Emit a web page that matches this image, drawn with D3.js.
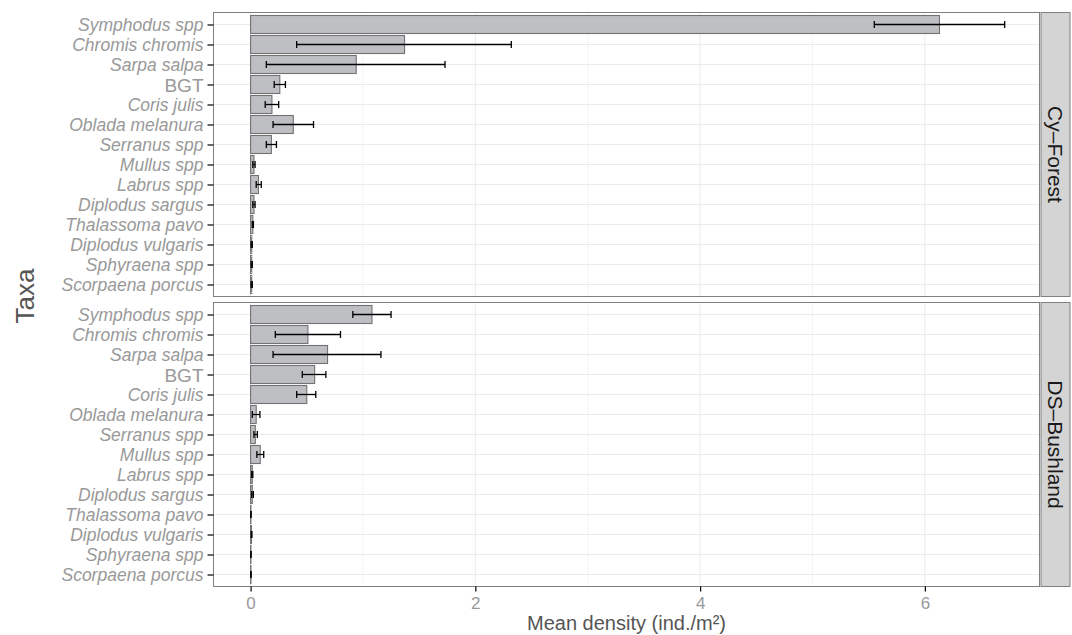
<!DOCTYPE html>
<html lang="en">
<head>
<meta charset="UTF-8">
<title>Mean density</title>
<script src="https://cdn.jsdelivr.net/npm/d3@7"></script>
<style>
  body { margin: 0; background: #fff; }
  .ylab text { font-family: "Liberation Sans", Arial, sans-serif; font-size: 17.5px; fill: #999; font-style: italic; }
</style>
</head>
<body>
<script>
const taxa = ["Symphodus spp", "Chromis chromis", "Sarpa salpa", "BGT", "Coris julis",
  "Oblada melanura", "Serranus spp", "Mullus spp", "Labrus spp", "Diplodus sargus",
  "Thalassoma pavo", "Diplodus vulgaris", "Sphyraena spp", "Scorpaena porcus"];
const sites = ["Cy\u2013Forest", "DS\u2013Bushland"];

// Cy-Forest
const forestMean = [6.13, 1.37, 0.94, 0.26, 0.19, 0.38, 0.185, 0.03, 0.07, 0.03, 0.02, 0.01, 0.01, 0.01];
const forestLo   = [5.55, 0.41, 0.14, 0.21, 0.13, 0.20, 0.14, 0.02, 0.05, 0.02, 0.015, 0.005, 0.005, 0.005];
const forestHi   = [6.71, 2.32, 1.73, 0.31, 0.25, 0.56, 0.23, 0.04, 0.095, 0.04, 0.025, 0.015, 0.015, 0.015];
// DS-Bushland
const bushMean = [1.08, 0.51, 0.685, 0.57, 0.50, 0.05, 0.042, 0.086, 0.015, 0.015, 0.003, 0.008, 0.003, 0.003];
const bushLo   = [0.91, 0.22, 0.20, 0.46, 0.41, 0.015, 0.03, 0.056, 0.01, 0.01, 0.002, 0.005, 0.002, 0.002];
const bushHi   = [1.25, 0.80, 1.16, 0.67, 0.58, 0.083, 0.06, 0.117, 0.02, 0.025, 0.004, 0.012, 0.004, 0.004];

const xTicks = [0, 2, 4, 6];
const xMinor = [1, 3, 5];

const panels = [
  { site: sites[0], mean: forestMean, lo: forestLo, hi: forestHi, top: 12.5 },
  { site: sites[1], mean: bushMean, lo: bushLo, hi: bushHi, top: 302.5 }
];

const W = 1072, H = 635;
const left = 213.5, right = 1039.5, panelH = 284;
const stripW = 29;

const svg = d3.select("body").append("svg").attr("width", W).attr("height", H);

const x = d3.scaleLinear().domain([-0.33, 7.02]).range([left, right]);
const y = d3.scalePoint().domain(taxa).range([0, panelH]).padding(0.6);
const barH = y.step() * 0.9;

panels.forEach(function (p, pi) {
  const g = svg.append("g").attr("transform", "translate(0," + p.top + ")");

  g.append("rect").attr("x", left).attr("y", 0).attr("width", right - left).attr("height", panelH)
    .attr("fill", "#fff");

  // minor grid
  g.selectAll(".minor").data(xMinor).enter().append("line")
    .attr("x1", d => x(d)).attr("x2", d => x(d)).attr("y1", 0).attr("y2", panelH)
    .attr("stroke", "#f2f2f2").attr("stroke-width", 0.8);
  // major grid
  g.selectAll(".major").data(xTicks).enter().append("line")
    .attr("x1", d => x(d)).attr("x2", d => x(d)).attr("y1", 0).attr("y2", panelH)
    .attr("stroke", "#ebebeb").attr("stroke-width", 1);
  g.selectAll(".hgrid").data(taxa).enter().append("line")
    .attr("x1", left).attr("x2", right).attr("y1", d => y(d)).attr("y2", d => y(d))
    .attr("stroke", "#ebebeb").attr("stroke-width", 1);

  // bars
  g.selectAll(".bar").data(taxa).enter().append("rect")
    .attr("x", x(0))
    .attr("y", d => y(d) - barH / 2)
    .attr("width", (d, i) => x(p.mean[i]) - x(0))
    .attr("height", barH)
    .attr("fill", "#bebfc3")
    .attr("stroke", "#727272")
    .attr("stroke-width", 1.1);

  // error bars
  const eb = g.selectAll(".eb").data(taxa).enter().append("g");
  eb.append("line")
    .attr("x1", (d, i) => x(p.lo[i])).attr("x2", (d, i) => x(p.hi[i]))
    .attr("y1", d => y(d)).attr("y2", d => y(d))
    .attr("stroke", "#000").attr("stroke-width", 1.3);
  eb.append("line")
    .attr("x1", (d, i) => x(p.lo[i])).attr("x2", (d, i) => x(p.lo[i]))
    .attr("y1", d => y(d) - 3.5).attr("y2", d => y(d) + 3.5)
    .attr("stroke", "#000").attr("stroke-width", 1.3);
  eb.append("line")
    .attr("x1", (d, i) => x(p.hi[i])).attr("x2", (d, i) => x(p.hi[i]))
    .attr("y1", d => y(d) - 3.5).attr("y2", d => y(d) + 3.5)
    .attr("stroke", "#000").attr("stroke-width", 1.3);

  // panel border
  g.append("rect").attr("x", left).attr("y", 0).attr("width", right - left).attr("height", panelH)
    .attr("fill", "none").attr("stroke", "#808080").attr("stroke-width", 1);

  // y axis
  const yAxis = d3.axisLeft(y).tickSize(6).tickPadding(4);
  const ya = g.append("g").attr("class", "ylab").attr("transform", "translate(" + left + ",0)").call(yAxis);
  ya.select(".domain").remove();
  ya.selectAll(".tick line").attr("stroke", "#000").attr("stroke-width", 1.2);
  ya.selectAll(".tick text").attr("dy", "0.35em")
    .filter(d => d === "BGT")
    .style("font-style", "normal").style("font-size", "19px");

  // strip
  g.append("rect").attr("x", right + 1.5).attr("y", 0).attr("width", stripW).attr("height", panelH)
    .attr("fill", "#d4d4d4").attr("stroke", "#808080").attr("stroke-width", 1);
  g.append("text")
    .attr("transform", "translate(" + (right + 1.5 + stripW / 2) + "," + (panelH / 2) + ") rotate(90)")
    .attr("text-anchor", "middle").attr("dy", "0.35em")
    .attr("font-family", "Liberation Sans, Arial, sans-serif").attr("font-size", 21)
    .attr("fill", "#1a1a1a")
    .text(p.site);

  if (pi === panels.length - 1) {
    const xAxis = d3.axisBottom(x).tickValues(xTicks).tickSize(5).tickPadding(5).tickFormat(d3.format("d"));
    const xa = g.append("g").attr("transform", "translate(0," + panelH + ")").call(xAxis);
    xa.select(".domain").remove();
    xa.selectAll(".tick line").attr("stroke", "#000").attr("stroke-width", 1.2);
    xa.selectAll(".tick text")
      .style("font-family", "Liberation Sans, Arial, sans-serif")
      .style("font-size", "17px")
      .style("fill", "#999");
  }
});

svg.append("text")
  .attr("x", (left + right) / 2).attr("y", 630)
  .attr("text-anchor", "middle")
  .attr("font-family", "Liberation Sans, Arial, sans-serif")
  .attr("font-size", 20).attr("fill", "#555")
  .text("Mean density (ind./m\u00b2)");

svg.append("text")
  .attr("transform", "translate(34,296) rotate(-90)")
  .attr("text-anchor", "middle")
  .attr("font-family", "Liberation Sans, Arial, sans-serif")
  .attr("font-size", 26).attr("fill", "#555")
  .text("Taxa");
</script>
</body>
</html>
